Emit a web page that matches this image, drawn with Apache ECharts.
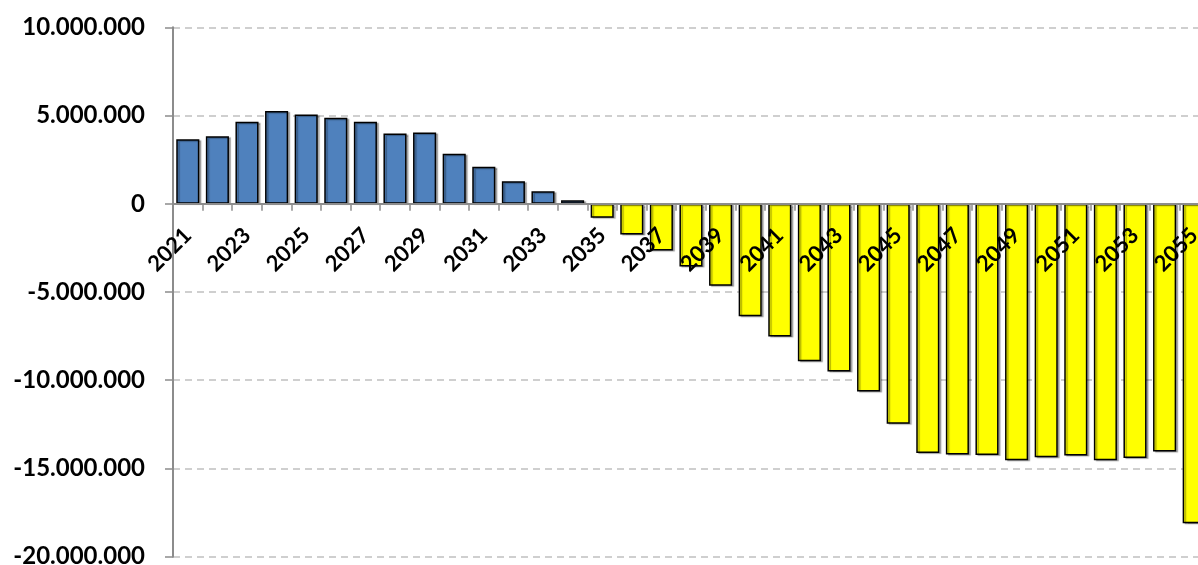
<!DOCTYPE html>
<html>
<head>
<meta charset="utf-8">
<script src="https://cdn.jsdelivr.net/npm/echarts@6/dist/echarts.min.js"></script>
<style>
html,body{margin:0;padding:0;background:#fff;}
#chart{width:1198px;height:565px;}
</style>
</head>
<body>
<div id="chart"></div>
<script>
var years = ['2021','2022','2023','2024','2025','2026','2027','2028','2029','2030',
  '2031','2032','2033','2034','2035','2036','2037','2038','2039','2040',
  '2041','2042','2043','2044','2045','2046','2047','2048','2049','2050',
  '2051','2052','2053','2054','2055'];
var values = [3660000, 3820000, 4650000, 5250000, 5060000, 4870000, 4650000, 3980000, 4040000, 2830000,
  2100000, 1280000, 710000, 200000, -790000, -1740000, -2650000, -3550000, -4650000, -6370000,
  -7520000, -8920000, -9510000, -10640000, -12460000, -14120000, -14210000, -14230000, -14530000, -14360000,
  -14270000, -14530000, -14400000, -14040000, -18110000];
var yTicks = [-20000000, -15000000, -10000000, -5000000, 0, 5000000, 10000000];

var W = 1198, H = 565;
var gridTop = 27.3, gridBottom = 8.3;
var yMin = yTicks[0], yMax = yTicks[yTicks.length - 1];
var plotH = H - gridTop - gridBottom;
var zeroOffset = -plotH * (0 - yMin) / (yMax - yMin);

var chart = echarts.init(document.getElementById('chart'), null, {renderer: 'canvas'});
var font = 'Lato, "Open Sans", sans-serif';
function fmt(v) {
  var s = String(Math.abs(v)).replace(/\B(?=(\d{3})+(?!\d))/g, '.');
  return (v < 0 ? '-' : '') + s;
}
chart.setOption({
  animation: false,
  backgroundColor: '#ffffff',
  grid: {left: 173, right: -11, top: gridTop, bottom: gridBottom, containLabel: false, outerBoundsMode: 'none'},
  xAxis: {
    type: 'category',
    data: years,
    offset: zeroOffset,
    z: 5,
    axisLine: {onZero: false, lineStyle: {color: '#8c8c8c', width: 2}},
    axisTick: {show: true, interval: 0, length: 7, alignWithLabel: false, lineStyle: {color: '#8c8c8c', width: 1.5}},
    axisLabel: {show: true, interval: 1, rotate: 45, margin: 28, hideOverlap: false, fontFamily: font, fontWeight: 'bold', fontSize: 22, color: '#000'},
    splitLine: {show: false}
  },
  yAxis: {
    type: 'value',
    min: yMin,
    max: yMax,
    interval: 5000000,
    axisLine: {show: true, lineStyle: {color: '#8c8c8c', width: 2}},
    axisTick: {show: true, length: 8, lineStyle: {color: '#8c8c8c', width: 1.5}},
    axisLabel: {margin: 28, fontFamily: font, fontWeight: 'bold', fontSize: 24, color: '#000', formatter: fmt},
    splitLine: {show: true, lineStyle: {color: '#c0c0c0', width: 1.5, type: [7, 5]}}
  },
  series: [{
    type: 'bar',
    data: values,
    barCategoryGap: '22%',
    itemStyle: {
      color: function (p) { return p.value >= 0 ? '#4f81bd' : '#ffff00'; },
      borderColor: '#000',
      borderWidth: 1.5,
      shadowColor: 'rgba(0,0,0,0.3)',
      shadowOffsetX: 2,
      shadowOffsetY: 1,
      shadowBlur: 1
    }
  }]
});
</script>
</body>
</html>
